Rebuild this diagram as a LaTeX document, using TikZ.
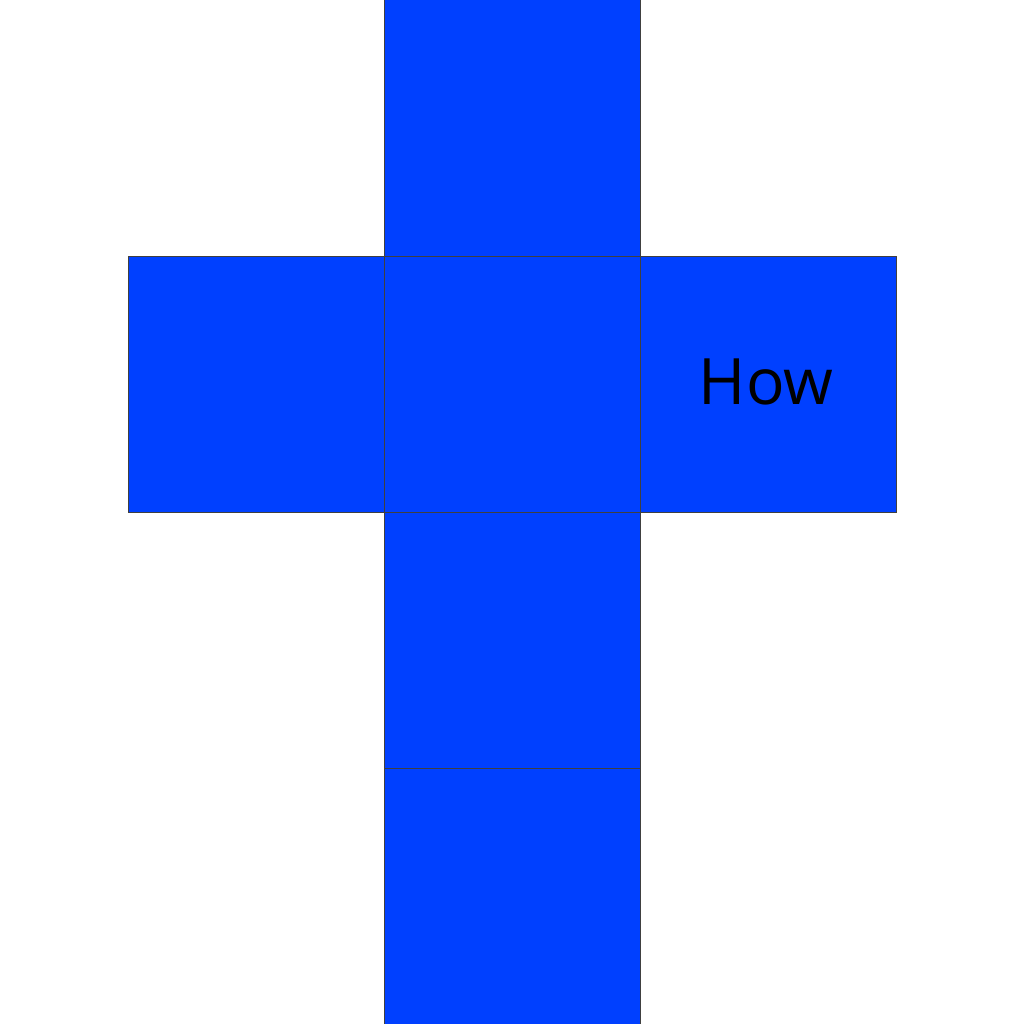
\documentclass[tikz,border=0pt]{standalone}
\usepackage{fontspec}
\setmainfont{Open Sans}
\definecolor{face}{HTML}{0040FF}
\definecolor{edge}{HTML}{404040}
\begin{document}
\begin{tikzpicture}[x=1pt,y=-1pt,
  facebox/.style={fill=face,draw=edge,line width=1pt}]
\useasboundingbox (0,0) rectangle (1024,1024);
\path[facebox] (384,0) rectangle (640,256) coordinate (f1);
\path[facebox] (128,256) rectangle (384,512) coordinate (f2);
\path[facebox] (384,256) rectangle (640,512) coordinate (f3);
\path[facebox] (640,256) rectangle (896,512) coordinate (f4);
\path[facebox] (384,512) rectangle (640,768) coordinate (f5);
\path[facebox] (384,768) rectangle (640,1024) coordinate (f6);
\node[font=\fontsize{64}{68}\selectfont, text=black] (how) at (766,382) {How};
\end{tikzpicture}
\end{document}
